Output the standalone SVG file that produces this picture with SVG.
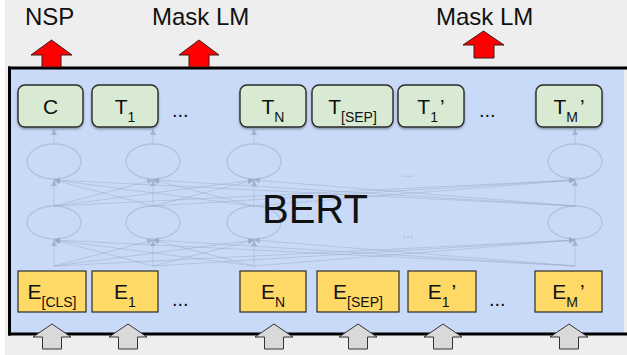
<svg xmlns="http://www.w3.org/2000/svg" width="627" height="355" viewBox="0 0 627 355">
<style>
.lbl{font-family:"Liberation Sans",Arial,sans-serif;fill:#111;}
.head{font-size:24px;}
.box{font-size:21px;text-anchor:middle;}
.sub{font-size:14px;}
.tbox{fill:#d9ead3;stroke:#2b2b2b;stroke-width:1.4;}
.ebox{fill:#ffd966;stroke:#2b2b2b;stroke-width:1.2;}
.red{fill:#ff0000;stroke:#3a1a1a;stroke-width:1;}
.gray{fill:#d9d9d9;stroke:#333;stroke-width:1;}
.net{stroke:#9aa9c2;stroke-opacity:0.45;stroke-width:1;fill:none;}
.node{fill:none;stroke:#b3c2dc;stroke-width:1.3;}
.dots{font-family:"Liberation Sans",Arial,sans-serif;font-size:20px;fill:#111;}
.fdots{font-family:"Liberation Sans",Arial,sans-serif;font-size:14px;fill:#a9b6cc;}
</style>
<defs>
<filter id="sh" x="-10%" y="-10%" width="120%" height="130%">
<feDropShadow dx="0" dy="1.5" stdDeviation="1" flood-color="#000" flood-opacity="0.35"/>
</filter>
<marker id="ah" markerUnits="userSpaceOnUse" markerWidth="6" markerHeight="6" refX="6" refY="3" orient="auto">
<path d="M0,0 L6,3 L0,6 z" fill="#9aa9c2" fill-opacity="0.75"/>
</marker>
</defs>
<rect x="0" y="0" width="627" height="355" fill="#ffffff"/>
<rect x="5" y="0" width="622" height="355" fill="#eeeeee"/>
<g id="bert-box">
<rect x="9" y="68" width="615" height="266" fill="#c9daf8"/>
<line x1="9.5" y1="66.5" x2="9.5" y2="335.5" stroke="#000" stroke-width="3"/>
<line x1="8" y1="68" x2="627" y2="68" stroke="#000" stroke-width="3"/>
<line x1="8" y1="334" x2="627" y2="334" stroke="#000" stroke-width="3"/>
</g>
<g id="network">
<ellipse class="node" cx="54" cy="161.5" rx="27" ry="17.5"/>
<ellipse class="node" cx="153" cy="161.5" rx="27" ry="17.5"/>
<ellipse class="node" cx="254" cy="161.5" rx="27" ry="17.5"/>
<ellipse class="node" cx="575" cy="161.5" rx="27" ry="17.5"/>
<ellipse class="node" cx="54" cy="222.5" rx="27" ry="16.5"/>
<ellipse class="node" cx="153" cy="222.5" rx="27" ry="16.5"/>
<ellipse class="node" cx="254" cy="222.5" rx="27" ry="16.5"/>
<ellipse class="node" cx="575" cy="222.5" rx="27" ry="16.5"/>
<text class="fdots" x="402" y="177">...</text>
<text class="fdots" x="402" y="238">...</text>
</g>
<g id="connectors" class="net" marker-end="url(#ah)">
<path d="M54,144 L54,129"/>
<path d="M153,144 L153,129"/>
<path d="M254,144 L254,129"/>
<path d="M575,144 L575,129"/>
<path d="M54,206 L54,180"/>
<path d="M54,206 L153,180"/>
<path d="M54,206 L254,180"/>
<path d="M54,206 L575,180"/>
<path d="M153,206 L54,180"/>
<path d="M153,206 L153,180"/>
<path d="M153,206 L254,180"/>
<path d="M153,206 L575,180"/>
<path d="M254,206 L54,180"/>
<path d="M254,206 L153,180"/>
<path d="M254,206 L254,180"/>
<path d="M254,206 L575,180"/>
<path d="M575,206 L54,180"/>
<path d="M575,206 L153,180"/>
<path d="M575,206 L254,180"/>
<path d="M575,206 L575,180"/>
<path d="M54,266 L54,240"/>
<path d="M54,266 L153,240"/>
<path d="M54,266 L254,240"/>
<path d="M54,266 L575,240"/>
<path d="M153,266 L54,240"/>
<path d="M153,266 L153,240"/>
<path d="M153,266 L254,240"/>
<path d="M153,266 L575,240"/>
<path d="M254,266 L54,240"/>
<path d="M254,266 L153,240"/>
<path d="M254,266 L254,240"/>
<path d="M254,266 L575,240"/>
<path d="M575,266 L54,240"/>
<path d="M575,266 L153,240"/>
<path d="M575,266 L254,240"/>
<path d="M575,266 L575,240"/>
</g>
<text class="lbl" x="262" y="223" font-size="40">BERT</text>
<g id="t-row">
<g id="t-c"><rect class="tbox" filter="url(#sh)" x="18" y="85" width="65" height="42" rx="7"/><text class="lbl box" x="50.5" y="113.5">C</text></g>
<g id="t-1"><rect class="tbox" filter="url(#sh)" x="92" y="85" width="66" height="42" rx="7"/><text class="lbl box" x="125" y="114">T<tspan class="sub" dy="8">1</tspan></text></g>
<g id="t-n"><rect class="tbox" filter="url(#sh)" x="240" y="85" width="66" height="42" rx="7"/><text class="lbl box" x="273" y="114">T<tspan class="sub" dy="8">N</tspan></text></g>
<g id="t-sep"><rect class="tbox" filter="url(#sh)" x="312" y="85" width="81" height="42" rx="7"/><text class="lbl box" x="352.5" y="114">T<tspan class="sub" dy="8">[SEP]</tspan></text></g>
<g id="t-1p"><rect class="tbox" filter="url(#sh)" x="398" y="85" width="66" height="42" rx="7"/><text class="lbl box" x="431" y="114">T<tspan class="sub" dy="8">1</tspan><tspan dy="-8" dx="2">’</tspan></text></g>
<g id="t-mp"><rect class="tbox" filter="url(#sh)" x="536" y="85" width="66" height="42" rx="7"/><text class="lbl box" x="569" y="114">T<tspan class="sub" dy="8">M</tspan><tspan dy="-8" dx="2">’</tspan></text></g>
<text class="dots" x="172" y="117">...</text>
<text class="dots" x="479" y="117">...</text>
</g>
<g id="e-row">
<g id="e-cls"><rect class="ebox" x="18" y="271" width="68" height="41"/><text class="lbl box" x="52" y="299">E<tspan class="sub" dy="8">[CLS]</tspan></text></g>
<g id="e-1"><rect class="ebox" x="92" y="271" width="66" height="41"/><text class="lbl box" x="125" y="299">E<tspan class="sub" dy="8">1</tspan></text></g>
<g id="e-n"><rect class="ebox" x="240" y="271" width="66" height="41"/><text class="lbl box" x="273" y="299">E<tspan class="sub" dy="8">N</tspan></text></g>
<g id="e-sep"><rect class="ebox" x="317" y="271" width="82" height="41"/><text class="lbl box" x="358" y="299">E<tspan class="sub" dy="8">[SEP]</tspan></text></g>
<g id="e-1p"><rect class="ebox" x="408" y="271" width="68" height="41"/><text class="lbl box" x="442" y="299">E<tspan class="sub" dy="8">1</tspan><tspan dy="-8" dx="2">’</tspan></text></g>
<g id="e-mp"><rect class="ebox" x="535" y="271" width="67" height="41"/><text class="lbl box" x="568.5" y="299">E<tspan class="sub" dy="8">M</tspan><tspan dy="-8" dx="2">’</tspan></text></g>
<text class="dots" x="172" y="306">...</text>
<text class="dots" x="489" y="306">...</text>
</g>
<g id="outputs">
<polygon class="red" points="42,67 42,55 31,55 51.5,40 72,55 61,55 61,67"/>
<polygon class="red" points="189,67 189,55 179,55 199,40 219,55 209,55 209,67"/>
<polygon class="red" points="474,58 474,45 463,45 483.5,31 504,45 494,45 494,58"/>
<text class="lbl head" x="25" y="25">NSP</text>
<text class="lbl head" x="152" y="25">Mask LM</text>
<text class="lbl head" x="436" y="25">Mask LM</text>
</g>
<g id="inputs">
<polygon class="gray" points="42.5,349 42.5,337 33,337 52,324 71,337 61.5,337 61.5,349"/>
<polygon class="gray" points="118.5,349 118.5,337 109,337 128,324 147,337 137.5,337 137.5,349"/>
<polygon class="gray" points="264.5,349 264.5,337 255,337 274,324 293,337 283.5,337 283.5,349"/>
<polygon class="gray" points="348.5,349 348.5,337 339,337 358,324 377,337 367.5,337 367.5,349"/>
<polygon class="gray" points="433.5,349 433.5,337 424,337 443,324 462,337 452.5,337 452.5,349"/>
<polygon class="gray" points="559.5,349 559.5,337 550,337 569,324 588,337 578.5,337 578.5,349"/>
</g>
</svg>
